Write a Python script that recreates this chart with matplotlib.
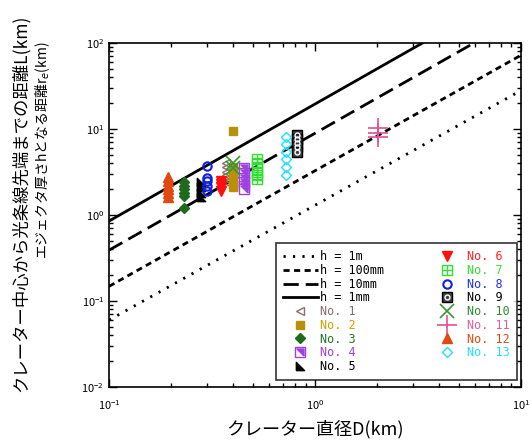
import numpy as np
import matplotlib
matplotlib.use("Agg")
import matplotlib.pyplot as plt
from matplotlib.ticker import LogLocator, NullFormatter

plt.rcParams['font.family'] = ['Noto Sans CJK JP', 'DejaVu Sans']

# thickness lines (two end points each)
line_D = [0.1, 10.0]
line_labels = ['h = 1m', 'h = 100mm', 'h = 10mm', 'h = 1mm']
line_L = [[0.06, 28.0], [0.148, 72.0], [0.39, 204.0], [0.85, 447.0]]

# crater data: one diameter per crater, several ray lengths
names = ['No. 1', 'No. 2', 'No. 3', 'No. 4', 'No. 5', 'No. 6', 'No. 7',
         'No. 8', 'No. 9', 'No. 10', 'No. 11', 'No. 12', 'No. 13']
crater_D = [0.37, 0.40, 0.23, 0.45, 0.28, 0.35, 0.525,
            0.30, 0.82, 0.40, 2.02, 0.193, 0.72]
crater_L = [
    [4.0, 3.6, 3.2, 2.9, 2.6, 2.4],
    [9.6, 3.6, 3.2, 2.9, 2.6, 2.3, 2.1],
    [2.4, 2.2, 2.0, 1.8, 1.65, 1.2],
    [3.5, 3.1, 2.7, 2.4, 2.2, 2.0],
    [2.4, 2.1, 1.8, 1.6],
    [2.5, 2.3, 2.1, 1.9],
    [4.5, 4.0, 3.6, 3.2, 2.9, 2.6],
    [3.7, 2.7, 2.5, 2.2, 1.9],
    [8.5, 7.6, 6.8, 6.1, 5.4],
    [4.0, 3.5],
    [10.2, 9.0, 8.0],
    [2.8, 2.5, 2.2, 2.0, 1.8, 1.6],
    [8.1, 6.7, 5.4, 4.5, 3.6, 2.9],
]

text_colors = ['#8c6e6e', '#d0a000', '#1e7a1e', '#a040e0', '#000000',
               '#ff2020', '#30e030', '#2030e0', '#000000', '#2e8b2e',
               '#e0609a', '#e04a10', '#20e0ff']

tri_ll = [(-1, -1), (1, -1), (-1, 1), (-1, -1)]
tri_ur = [(1, -1), (1, 1), (-1, 1), (1, -1)]

fig = plt.figure(figsize=(5.31, 4.46), dpi=100)
ax = fig.add_axes([0.2053, 0.1323, 0.7757, 0.7713])

styles = [(0, (0.8, 2.6)), (0, (2.2, 1.6)), (0, (5.5, 2.5)), '-']
handles = []
for lab, ls, ys in zip(line_labels, styles, line_L):
    h, = ax.plot(line_D, ys, color='black', lw=2, linestyle=ls, label=lab)
    handles.append(h)

def pts(i):
    return [crater_D[i]] * len(crater_L[i]), crater_L[i]

mh = []
x, y = pts(0)
mh.append(ax.plot(x, y, ls='none', marker='<', ms=6, mfc='none', mec='#8c6e6e', mew=1)[0])
x, y = pts(1)
mh.append(ax.plot(x, y, ls='none', marker='s', ms=6, color='#b8900a')[0])
x, y = pts(2)
mh.append(ax.plot(x, y, ls='none', marker='D', ms=5, color='#1e6b1e')[0])
x, y = pts(3)
a = ax.plot(x, y, ls='none', marker='s', ms=7, mfc='white', mec='#a040e0', mew=1)[0]
b = ax.plot(x, y, ls='none', marker=tri_ur, ms=5, color='#a040e0')[0]
mh.append((a, b))
x, y = pts(4)
mh.append(ax.plot(x, y, ls='none', marker=tri_ll, ms=6, color='black')[0])
x, y = pts(5)
mh.append(ax.plot(x, y, ls='none', marker='v', ms=7, color='#ff1010')[0])
x, y = pts(6)
a = ax.plot(x, y, ls='none', marker='s', ms=7, mfc='none', mec='#30e030', mew=1)[0]
b = ax.plot(x, y, ls='none', marker='+', ms=7, mec='#30e030', mew=1)[0]
mh.append((a, b))
x, y = pts(7)
mh.append(ax.plot(x, y, ls='none', marker='o', ms=6, mfc='none', mec='#1020e0', mew=1.5)[0])
x, y = pts(8)
a = ax.plot(x, y, ls='none', marker='s', ms=7, mfc='#404040', mec='black', mew=1)[0]
b = ax.plot(x, y, ls='none', marker='o', ms=3.5, mfc='none', mec='white', mew=1)[0]
mh.append((a, b))
x, y = pts(9)
mh.append(ax.plot(x, y, ls='none', marker='x', ms=10, mec='#339933', mew=1.2)[0])
x, y = pts(10)
mh.append(ax.plot(x, y, ls='none', marker='+', ms=14, mec='#e0508f', mew=1.2)[0])
x, y = pts(11)
mh.append(ax.plot(x, y, ls='none', marker='^', ms=7, color='#e04a10')[0])
x, y = pts(12)
mh.append(ax.plot(x, y, ls='none', marker='D', ms=5, mfc='none', mec='#20e0ff', mew=1)[0])

ax.set_xscale('log')
ax.set_yscale('log')
ax.set_xlim(0.1, 10)
ax.set_ylim(0.01, 100)

for axis in (ax.xaxis, ax.yaxis):
    axis.set_minor_locator(LogLocator(base=10, subs=np.arange(2, 10)))
    axis.set_minor_formatter(NullFormatter())
ax.tick_params(which='both', direction='in', top=True, right=True, labelsize=8)
ax.tick_params(which='major', length=6, width=1)
ax.tick_params(which='minor', length=3, width=1)
ax.tick_params(axis='x', pad=8)
for s in ax.spines.values():
    s.set_linewidth(1.2)

ax.set_xlabel('クレーター直径D(km)', fontsize=13, labelpad=6)
fig.text(0.038, 0.545, 'クレーター中心から光条線先端までの距離L(km)',
         rotation=90, fontsize=12.5, ha='center', va='center')
fig.text(0.08, 0.664, 'エジェクタ厚さhとなる距離r$_e$(km)',
         rotation=90, fontsize=10, ha='center', va='center')

leg = ax.legend(handles + mh, line_labels + names, ncol=2, loc='lower right',
                bbox_to_anchor=(0.990, 0.020), borderaxespad=0, frameon=True,
                fancybox=False, edgecolor='black', handlelength=2.95,
                handletextpad=0.2, columnspacing=3.85, labelspacing=0.06,
                borderpad=0.6, prop={'family': ['DejaVu Sans Mono'], 'size': 8.5})
leg.get_frame().set_linewidth(1.2)
for t, c in zip(leg.get_texts()[4:], text_colors):
    t.set_color(c)

fig.savefig('out.png', dpi=100)
